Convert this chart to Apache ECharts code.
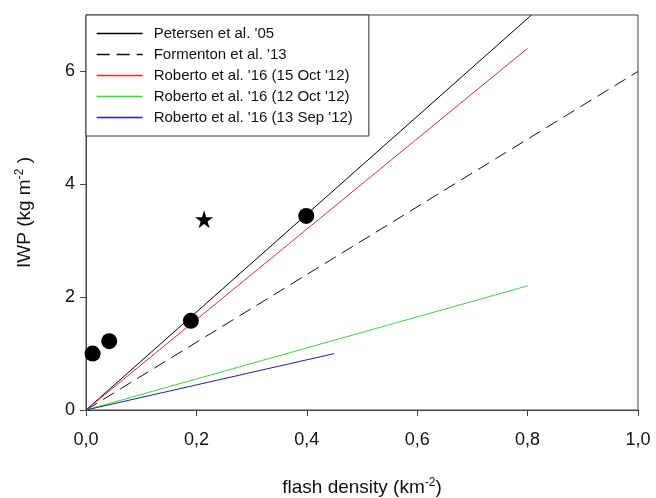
<!DOCTYPE html>
<html>
<head>
<meta charset="utf-8">
<script src="https://cdn.jsdelivr.net/npm/echarts@6/dist/echarts.min.js"></script>
<style>html,body{margin:0;padding:0;background:#fff}#c{width:656px;height:498px}</style>
</head>
<body>
<div id="c"></div>
<script>
// Fitted lines (flash density, IWP)
var petersen = [[0, 0], [0.807, 7.0]];
var formenton = [[0, 0], [1.0, 6.0]];
var roberto15Oct = [[0, 0], [0.8, 6.41]];
var roberto12Oct = [[0, 0], [0.8, 2.2]];
var roberto13Sep = [[0, 0], [0.45, 1.0]];
// Observations
var dots = [[0.012, 1.0], [0.042, 1.22], [0.19, 1.58], [0.399, 3.44]];
var star = [[0.214, 3.38]];
// Axis ticks
var xTicks = [0, 0.2, 0.4, 0.6, 0.8, 1.0];
var yTicks = [0, 2, 4, 6];
var seriesNames = ["Petersen et al. '05", "Formenton et al. '13", "Roberto et al. '16 (15 Oct '12)", "Roberto et al. '16 (12 Oct '12)", "Roberto et al. '16 (13 Sep '12)"];

var FONT = "'Liberation Sans', Arial, sans-serif";
var starPath = 'path://M50,0 L61.8,36.3 L100,36.3 L69.1,58.8 L80.9,95.1 L50,72.6 L19.1,95.1 L30.9,58.8 L0,36.3 L38.2,36.3 Z';

function lineSeries(name, data, color, type) {
  return {
    name: name, type: 'line', data: data, symbol: 'none', showSymbol: false, clip: true,
    lineStyle: { color: color, width: 1, type: type || 'solid' },
    itemStyle: { color: color },
    z: 2
  };
}

var chart = echarts.init(document.getElementById('c'), null, { renderer: 'canvas' });
chart.setOption({
  animation: false,
  backgroundColor: '#fff',
  textStyle: { fontFamily: FONT },
  grid: { left: 86, right: 18, top: 15, bottom: 88, outerBoundsMode: 'none', containLabel: false, show: true, borderColor: '#444', borderWidth: 1, backgroundColor: 'transparent' },
  legend: {
    data: seriesNames,
    orient: 'vertical', left: 86, top: 15,
    borderColor: '#333', borderWidth: 1, borderRadius: 0,
    padding: [11, 16, 11, 10],
    itemWidth: 46, itemHeight: 15, itemGap: 6,
    backgroundColor: '#fff',
    itemStyle: { opacity: 0 },
    lineStyle: { width: 1.3 },
    textStyle: { fontFamily: FONT, fontSize: 15, color: '#111', padding: [0, 0, 0, 6] }
  },
  xAxis: {
    type: 'value', min: 0, max: 1.0, interval: 0.2,
    name: '{n|flash density (km}{s|-2}{n|)}',
    nameLocation: 'middle', nameGap: 67,
    nameTextStyle: { rich: { n: { fontSize: 19, fontFamily: FONT, color: '#111' }, s: { fontSize: 12, fontFamily: FONT, color: '#111', padding: [0, 0, 10, 0] } } },
    axisLine: { lineStyle: { color: '#444', width: 1 } },
    axisTick: { show: true, inside: false, length: 6, lineStyle: { color: '#444' }, customValues: xTicks },
    axisLabel: { fontSize: 18, color: '#111', margin: 21, fontFamily: FONT, customValues: xTicks,
      formatter: function (v) { return v.toFixed(1).replace('.', ','); } },
    splitLine: { show: false }
  },
  yAxis: {
    type: 'value', min: 0, max: 7, interval: 1,
    name: '{n|IWP (kg m}{s|-2}{n| )}',
    nameLocation: 'middle', nameGap: 50, nameRotate: 90,
    nameTextStyle: { rich: { n: { fontSize: 19, fontFamily: FONT, color: '#111' }, s: { fontSize: 12, fontFamily: FONT, color: '#111', padding: [0, 0, 10, 0] } } },
    axisLine: { lineStyle: { color: '#444', width: 1 } },
    axisTick: { show: true, inside: false, length: 6, lineStyle: { color: '#444' }, customValues: yTicks },
    axisLabel: { fontSize: 18, color: '#111', margin: 11, fontFamily: FONT, customValues: yTicks,
      formatter: function (v) { return String(v); } },
    splitLine: { show: false }
  },
  series: [
    lineSeries(seriesNames[0], petersen, '#000000'),
    lineSeries(seriesNames[1], formenton, '#111111', [13, 7]),
    lineSeries(seriesNames[2], roberto15Oct, '#d8322e'),
    lineSeries(seriesNames[3], roberto12Oct, '#3fd43f'),
    lineSeries(seriesNames[4], roberto13Sep, '#2020b0'),
    { name: 'obs', type: 'scatter', data: dots, symbol: 'circle', symbolSize: 16, itemStyle: { color: '#000', opacity: 1 }, z: 5 },
    { name: 'star', type: 'scatter', data: star, symbol: starPath, symbolSize: 18, itemStyle: { color: '#000', opacity: 1 }, z: 5 }
  ]
});
</script>
</body>
</html>
